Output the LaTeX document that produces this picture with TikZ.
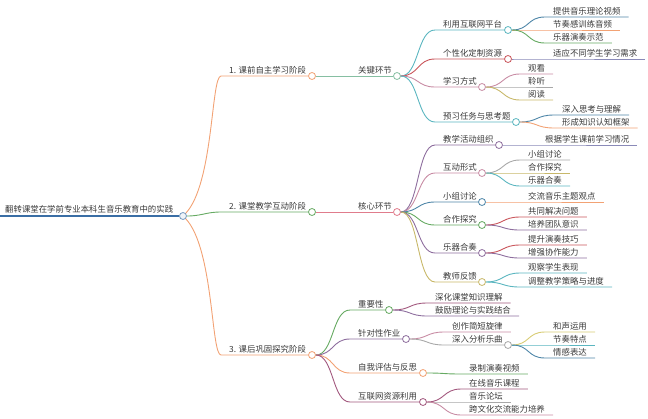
\documentclass[tikz,border=0pt]{standalone}
\usepackage{fontspec}
\newfontfamily\cjk{Noto Sans CJK SC}
\usetikzlibrary{calc}
\definecolor{croot}{HTML}{3A6EA5}
\definecolor{corange}{HTML}{F2A274}
\definecolor{cgreen}{HTML}{66AA62}
\definecolor{cmint}{HTML}{86BFA2}
\definecolor{cpink}{HTML}{E07C8C}
\definecolor{cteal}{HTML}{5BB6C0}
\definecolor{cred}{HTML}{C9545A}
\definecolor{cmauve}{HTML}{C88CA4}
\definecolor{cpurple}{HTML}{8E6E9E}
\definecolor{cblue}{HTML}{4E86A8}
\definecolor{cslate}{HTML}{8A8AB8}
\definecolor{colive}{HTML}{C8B86A}
\definecolor{cgray}{HTML}{A8A8A8}
\definecolor{cyellow}{HTML}{D8CC74}
\definecolor{cplum}{HTML}{A2587E}
\tikzset{
    topic/.style={anchor=south west, inner xsep=8pt, inner ysep=1.5pt, text=black!78, font=\cjk\fontsize{8.4}{10}\selectfont},
    knot/.style={circle, draw, fill=white, minimum size=7pt, inner sep=0pt, line width=0.8pt},
    wire/.style={line width=0.9pt},
    link/.style={to path={.. controls +(#1,0) and +(-#1,0) .. (\tikztotarget)}},
    link/.default=18,
}
\begin{document}
\begin{tikzpicture}[x=1pt, y=-1pt]
    \useasboundingbox (0,0) rectangle (648,418);
    % centre
    \node[topic, inner xsep=5pt, inner ysep=2.5pt] (root) at (0,216) {翻转课堂在学前专业本科生音乐教育中的实践};
    \node[knot, draw=croot!70, fill=croot!8] (rootdot) at (183,216) {};
    \draw[croot, line width=2.6pt] (root.south west) -- (rootdot.west);

    % stages
    \node[topic] (st1) at (221,76) {1. 课前自主学习阶段};
    \node[knot, draw=corange] (st1dot) at (312,76) {};
    \draw[corange, wire] (rootdot.north east) .. controls +(28,-30) and +(-10,0) .. (st1.south west) -- (st1dot.west);
    \node[topic] (st2) at (221,212) {2. 课堂教学互动阶段};
    \node[knot, draw=cgreen] (st2dot) at (312,212) {};
    \draw[cgreen, wire] (rootdot.east) to[link=15] (st2.south west) -- (st2dot.west);
    \node[topic] (st3) at (221,355) {3. 课后巩固探究阶段};
    \node[knot, draw=corange] (st3dot) at (312,355) {};
    \draw[corange, wire] (rootdot.south east) .. controls +(28,30) and +(-10,0) .. (st3.south west) -- (st3dot.west);

    % stage 1
    \node[topic] (key1) at (350,76) {关键环节};
    \node[knot, draw=cmint] (key1dot) at (397,76) {};
    \draw[cmint, wire] (st1dot.east) -- (key1dot.west);

    \node[topic] (net) at (435,30) {利用互联网平台};
    \node[knot, draw=cteal] (netdot) at (508,30) {};
    \draw[cteal, wire] (key1dot.east) to[link] (net.south west) -- (netdot.west);
    \node[topic] (custom) at (435,59) {个性化定制资源};
    \node[knot, draw=cred] (customdot) at (508,59) {};
    \draw[cred, wire] (key1dot.east) to[link] (custom.south west) -- (customdot.west);
    \node[topic] (mode) at (435,87) {学习方式};
    \node[knot, draw=cmauve] (modedot) at (482,87) {};
    \draw[cmauve, wire] (key1dot.east) to[link] (mode.south west) -- (modedot.west);
    \node[topic] (prep) at (435,122) {预习任务与思考题};
    \node[knot, draw=cteal] (prepdot) at (516,122) {};
    \draw[cteal, wire] (key1dot.east) to[link] (prep.south west) -- (prepdot.west);

    \node[topic] (video) at (545,17) {提供音乐理论视频};
    \draw[cblue, wire] (netdot.east) to[link] (video.south west) -- (video.south east);
    \node[topic] (audio) at (545,30) {节奏感训练音频};
    \draw[corange, wire] (netdot.east) to[link] (audio.south west) -- (audio.south east);
    \node[topic] (demo) at (545,43) {乐器演奏示范};
    \draw[cgreen, wire] (netdot.east) to[link] (demo.south west) -- (demo.south east);
    \node[topic] (needs) at (545,59) {适应不同学生学习需求};
    \draw[cslate, wire] (customdot.east) to[link] (needs.south west) -- (needs.south east);
    \node[topic] (watch) at (520,74) {观看};
    \draw[cmauve, wire] (modedot.east) to[link] (watch.south west) -- (watch.south east);
    \node[topic] (listen) at (520,87) {聆听};
    \draw[cgray, wire] (modedot.east) to[link] (listen.south west) -- (listen.south east);
    \node[topic] (read) at (520,100) {阅读};
    \draw[colive, wire] (modedot.east) to[link] (read.south west) -- (read.south east);
    \node[topic] (think) at (554,115) {深入思考与理解};
    \draw[cblue, wire] (prepdot.east) to[link] (think.south west) -- (think.south east);
    \node[topic] (frame) at (554,128) {形成知识认知框架};
    \draw[corange, wire] (prepdot.east) to[link] (frame.south west) -- (frame.south east);

    % stage 2
    \node[topic] (key2) at (350,212) {核心环节};
    \node[knot, draw=cpink] (key2dot) at (397,212) {};
    \draw[cpink, wire] (st2dot.east) -- (key2dot.west);

    \node[topic] (org) at (435,145) {教学活动组织};
    \node[knot, draw=cpurple] (orgdot) at (499,145) {};
    \draw[cpurple, wire] (key2dot.east) to[link] (org.south west) -- (orgdot.west);
    \node[topic] (form) at (435,173) {互动形式};
    \node[knot, draw=cmauve] (formdot) at (482,173) {};
    \draw[cmauve, wire] (key2dot.east) to[link] (form.south west) -- (formdot.west);
    \node[topic] (disc) at (435,202) {小组讨论};
    \node[knot, draw=cblue] (discdot) at (482,202) {};
    \draw[cblue, wire] (key2dot.east) to[link] (disc.south west) -- (discdot.west);
    \node[topic] (coop) at (435,225) {合作探究};
    \node[knot, draw=cgreen] (coopdot) at (482,225) {};
    \draw[cgreen, wire] (key2dot.east) to[link] (coop.south west) -- (coopdot.west);
    \node[topic] (ens) at (435,253) {乐器合奏};
    \node[knot, draw=cpurple] (ensdot) at (482,253) {};
    \draw[cpurple, wire] (key2dot.east) to[link] (ens.south west) -- (ensdot.west);
    \node[topic] (fb) at (435,282) {教师反馈};
    \node[knot, draw=colive] (fbdot) at (482,282) {};
    \draw[colive, wire] (key2dot.east) to[link] (fb.south west) -- (fbdot.west);

    \node[topic] (basis) at (537,145) {根据学生课前学习情况};
    \draw[cslate, wire] (orgdot.east) to[link] (basis.south west) -- (basis.south east);
    \node[topic] (form1) at (520,160) {小组讨论};
    \draw[cgray, wire] (formdot.east) to[link] (form1.south west) -- (form1.south east);
    \node[topic] (form2) at (520,173) {合作探究};
    \draw[colive, wire] (formdot.east) to[link] (form2.south west) -- (form2.south east);
    \node[topic] (form3) at (520,186) {乐器合奏};
    \draw[cteal, wire] (formdot.east) to[link] (form3.south west) -- (form3.south east);
    \node[topic] (theme) at (520,202) {交流音乐主题观点};
    \draw[corange, wire] (discdot.east) to[link] (theme.south west) -- (theme.south east);
    \node[topic] (solve) at (520,217) {共同解决问题};
    \draw[cred, wire] (coopdot.east) to[link] (solve.south west) -- (solve.south east);
    \node[topic] (team) at (520,230) {培养团队意识};
    \draw[cpurple, wire] (coopdot.east) to[link] (team.south west) -- (team.south east);
    \node[topic] (skill) at (520,245) {提升演奏技巧};
    \draw[cred, wire] (ensdot.east) to[link] (skill.south west) -- (skill.south east);
    \node[topic] (collab) at (520,258) {增强协作能力};
    \draw[cpurple, wire] (ensdot.east) to[link] (collab.south west) -- (collab.south east);
    \node[topic] (observe) at (520,273) {观察学生表现};
    \draw[cteal, wire] (fbdot.east) to[link] (observe.south west) -- (observe.south east);
    \node[topic] (adjust) at (520,287) {调整教学策略与进度};
    \draw[cteal, wire] (fbdot.east) to[link] (adjust.south west) -- (adjust.south east);

    % stage 3
    \node[topic] (imp) at (350,310) {重要性};
    \node[knot, draw=cgreen] (impdot) at (389,310) {};
    \draw[cgreen, wire] (st3dot.east) to[link] (imp.south west) -- (impdot.west);
    \node[topic] (task) at (350,339) {针对性作业};
    \node[knot, draw=cpurple] (taskdot) at (406,339) {};
    \draw[cpurple, wire] (st3dot.east) to[link] (task.south west) -- (taskdot.west);
    \node[topic] (refl) at (350,373) {自我评估与反思};
    \node[knot, draw=corange] (refldot) at (423,373) {};
    \draw[corange, wire] (st3dot.east) to[link] (refl.south west) -- (refldot.west);
    \node[topic] (web) at (350,402) {互联网资源利用};
    \node[knot, draw=cplum] (webdot) at (423,402) {};
    \draw[cplum, wire] (st3dot.east) to[link] (web.south west) -- (webdot.west);

    \node[topic] (deepen) at (427,303) {深化课堂知识理解};
    \draw[cplum, wire] (impdot.east) to[link] (deepen.south west) -- (deepen.south east);
    \node[topic] (combine) at (427,316) {鼓励理论与实践结合};
    \draw[cpurple, wire] (impdot.east) to[link] (combine.south west) -- (combine.south east);
    \node[topic] (melody) at (444,332) {创作简短旋律};
    \draw[cmauve, wire] (taskdot.east) to[link] (melody.south west) -- (melody.south east);
    \node[topic] (anal) at (444,345) {深入分析乐曲};
    \node[knot, draw=cgray] (analdot) at (508,345) {};
    \draw[cgray, wire] (taskdot.east) to[link] (anal.south west) -- (analdot.west);
    \node[topic] (harm) at (545,332) {和声运用};
    \draw[cyellow, wire] (analdot.east) to[link] (harm.south west) -- (harm.south east);
    \node[topic] (rhythm) at (545,345) {节奏特点};
    \draw[cteal, wire] (analdot.east) to[link] (rhythm.south west) -- (rhythm.south east);
    \node[topic] (emotion) at (545,358) {情感表达};
    \draw[cblue, wire] (analdot.east) to[link] (emotion.south west) -- (emotion.south east);
    \node[topic] (record) at (461,374) {录制演奏视频};
    \draw[cgreen, wire] (refldot.east) to[link] (record.south west) -- (record.south east);
    \node[topic] (course) at (461,389) {在线音乐课程};
    \draw[cplum, wire] (webdot.east) to[link] (course.south west) -- (course.south east);
    \node[topic] (forum) at (461,402) {音乐论坛};
    \draw[cgray, wire] (webdot.east) to[link] (forum.south west) -- (forum.south east);
    \node[topic] (cross) at (461,415) {跨文化交流能力培养};
    \draw[cmauve, wire] (webdot.east) to[link] (cross.south west) -- (cross.south east);
\end{tikzpicture}
\end{document}
